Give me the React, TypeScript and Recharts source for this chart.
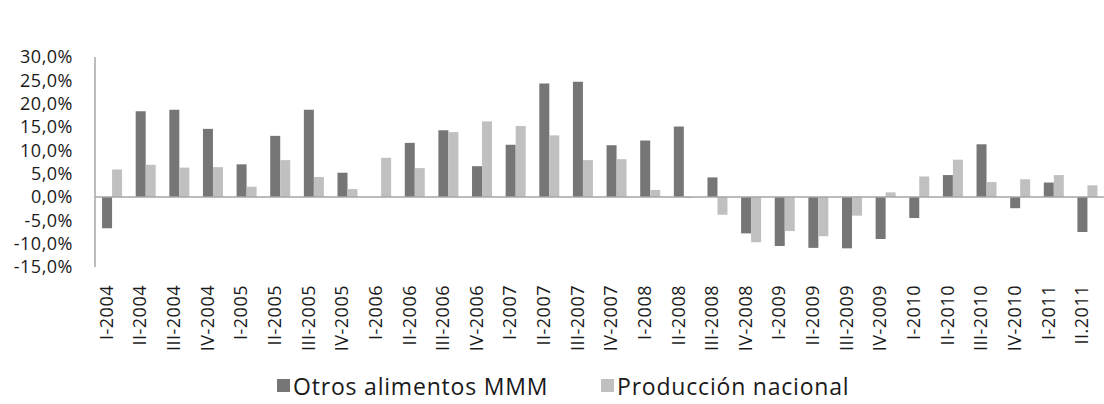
import { BarChart, Bar, XAxis, YAxis, Legend, ReferenceLine } from 'recharts'

const quarters = [
  'I-2004', 'II-2004', 'III-2004', 'IV-2004',
  'I-2005', 'II-2005', 'III-2005', 'IV-2005',
  'I-2006', 'II-2006', 'III-2006', 'IV-2006',
  'I-2007', 'II-2007', 'III-2007', 'IV-2007',
  'I-2008', 'II-2008', 'III-2008', 'IV-2008',
  'I-2009', 'II-2009', 'III-2009', 'IV-2009',
  'I-2010', 'II-2010', 'III-2010', 'IV-2010',
  'I-2011', 'II.2011',
]

const otrosAlimentos = [
  -6.7, 18.4, 18.7, 14.6,
  7.0, 13.1, 18.7, 5.2,
  0, 11.6, 14.3, 6.6,
  11.2, 24.3, 24.7, 11.1,
  12.1, 15.1, 4.2, -7.8,
  -10.5, -10.9, -11.0, -9.0,
  -4.5, 4.7, 11.3, -2.4,
  3.1, -7.5,
]

const produccionNacional = [
  5.9, 6.9, 6.3, 6.4,
  2.2, 7.9, 4.3, 1.7,
  8.4, 6.2, 13.9, 16.2,
  15.2, 13.2, 7.9, 8.1,
  1.5, -0.2, -3.8, -9.7,
  -7.3, -8.4, -4.0, 1.0,
  4.4, 8.0, 3.2, 3.8,
  4.7, 2.5,
]

const yTicks = [-15, -10, -5, 0, 5, 10, 15, 20, 25, 30]

const data = quarters.map((q, i) => ({
  quarter: q,
  otros: otrosAlimentos[i],
  nacional: produccionNacional[i],
}))

const FONT = '"Open Sans", Lato, sans-serif'

const fmtPct = (v: number) => v.toFixed(1).replace('.', ',') + '%'

function QuarterTick(props: any) {
  const { x, y, payload } = props
  return (
    <text
      x={0}
      y={0}
      transform={`translate(${x + 1},${y + 10}) rotate(-90)`}
      textAnchor="end"
      fontSize={18}
      letterSpacing={0.5}
      fontFamily={FONT}
      fill="#1a1a1a"
    >
      {payload.value}
    </text>
  )
}

function LegendBox(props: any) {
  const { payload } = props
  return (
    <div style={{ height: 52, display: 'flex', paddingLeft: 277, paddingTop: 15, boxSizing: 'border-box', fontFamily: FONT, fontSize: 23, letterSpacing: 0.8, color: '#1a1a1a' }}>
      {payload.map((p: any, i: number) => (
        <div key={p.value} style={{ display: 'flex', alignItems: 'center', width: i === 0 ? 324 : 'auto' }}>
          <span style={{ display: 'inline-block', width: 13, height: 13, background: p.color, marginRight: 3 }} />
          <span>{p.value}</span>
        </div>
      ))}
    </div>
  )
}

export default function App() {
  return (
    <div style={{ position: 'absolute', left: 0, top: 0, width: 1104, height: 404, background: '#fff' }}>
      <BarChart
        width={1104}
        height={404}
        data={data}
        margin={{ top: 57, right: 0, left: 0, bottom: 0 }}
        barCategoryGap="21%"
        barGap={0}
      >
        <XAxis
          dataKey="quarter"
          axisLine={false}
          tickLine={false}
          interval={0}
          height={85}
          tick={<QuarterTick />}
        />
        <YAxis
          domain={[-15, 30]}
          ticks={yTicks}
          interval={0}
          width={95}
          tickFormatter={fmtPct}
          axisLine={{ stroke: '#a6a6a6', strokeWidth: 1.5 }}
          tickLine={false}
          tickSize={0}
          tickMargin={22}
          tick={{ fontSize: 18, fontFamily: FONT, fill: '#1a1a1a', letterSpacing: 0.5 }}
        />
        <ReferenceLine y={0} stroke="#a6a6a6" strokeWidth={1.5} />
        <Legend verticalAlign="bottom" height={52} content={<LegendBox />} />
        <Bar dataKey="otros" name="Otros alimentos MMM" fill="#767676" isAnimationActive={false} />
        <Bar dataKey="nacional" name="Producción nacional" fill="#c0c0c0" isAnimationActive={false} />
      </BarChart>
    </div>
  )
}
